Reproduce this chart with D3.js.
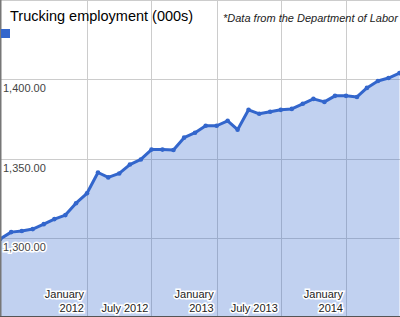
<!DOCTYPE html>
<html>
<head>
<meta charset="utf-8">
<script src="https://cdn.jsdelivr.net/npm/d3@7"></script>
<style>
    body { margin: 0; background: #fff; }
    svg { display: block; font-family: Arial, "Liberation Sans", sans-serif; }
</style>
</head>
<body>
<div id="chart"></div>
<script>
const months = [
    "2011-05", "2011-06", "2011-07", "2011-08", "2011-09", "2011-10", "2011-11", "2011-12",
    "2012-01", "2012-02", "2012-03", "2012-04", "2012-05", "2012-06", "2012-07", "2012-08",
    "2012-09", "2012-10", "2012-11", "2012-12", "2013-01", "2013-02", "2013-03", "2013-04",
    "2013-05", "2013-06", "2013-07", "2013-08", "2013-09", "2013-10", "2013-11", "2013-12",
    "2014-01", "2014-02", "2014-03", "2014-04", "2014-05", "2014-06"
];
const employment = [
    1299.4, 1303.7, 1304.4, 1305.6, 1308.7, 1311.9, 1314.4, 1321.9,
    1328.1, 1341.2, 1338.1, 1340.6, 1346.2, 1349.4, 1355.6, 1355.6,
    1355.3, 1363.1, 1366.2, 1370.6, 1370.6, 1373.7, 1368.1, 1380.6,
    1378.1, 1379.4, 1380.6, 1381.2, 1384.4, 1387.5, 1385.6, 1389.4,
    1389.4, 1388.7, 1394.4, 1398.7, 1400.6, 1403.7
];
const yTicks = [1300, 1350, 1400, 1450];
const xTicks = ["2012-01", "2012-07", "2013-01", "2013-07", "2014-01"];
const xTickLabels = [["January", "2012"], ["July 2012"], ["January", "2013"], ["July 2013"], ["January", "2014"]];

const title = "Trucking employment (000s)";
const note = "*Data from the Department of Labor";

const width = 400, height = 317;
const blue = "#3366cc";
const parse = d3.timeParse("%Y-%m");

const data = months.map((m, i) => ({ date: parse(m), value: employment[i] }));

const svg = d3.select("#chart")
    .append("svg")
    .attr("width", width)
    .attr("height", height);

const x = d3.scaleTime()
    .domain([parse("2012-01"), parse("2014-01")])
    .range([87, 346]);

const y = d3.scaleLinear()
    .domain([1250, 1450])
    .range([317.5, -0.5]);

// gridlines
svg.append("g")
    .selectAll("line.v")
    .data(xTicks)
    .enter()
    .append("line")
    .attr("x1", d => Math.round(x(parse(d))) + 0.5)
    .attr("x2", d => Math.round(x(parse(d))) + 0.5)
    .attr("y1", 0)
    .attr("y2", height)
    .attr("stroke", "#cccccc");

svg.append("g")
    .selectAll("line.h")
    .data(yTicks)
    .enter()
    .append("line")
    .attr("x1", 0)
    .attr("x2", width)
    .attr("y1", d => Math.max(0.5, Math.round(y(d)) + 0.5))
    .attr("y2", d => Math.max(0.5, Math.round(y(d)) + 0.5))
    .attr("stroke", "#cccccc");

const area = d3.area()
    .x(d => x(d.date))
    .y0(y(1250))
    .y1(d => y(d.value));

const line = d3.line()
    .x(d => x(d.date))
    .y(d => y(d.value));

svg.append("path")
    .datum(data)
    .attr("d", area)
    .attr("fill", blue)
    .attr("fill-opacity", 0.3);

svg.append("path")
    .datum(data)
    .attr("d", line)
    .attr("fill", "none")
    .attr("stroke", blue)
    .attr("stroke-width", 3)
    .attr("stroke-linejoin", "round");

svg.selectAll("circle")
    .data(data)
    .enter()
    .append("circle")
    .attr("cx", d => x(d.date))
    .attr("cy", d => y(d.value))
    .attr("r", 2.3)
    .attr("fill", blue);

// axis lines
svg.append("line")
    .attr("x1", 0.75).attr("x2", 0.75)
    .attr("y1", 0).attr("y2", height)
    .attr("stroke", "#777")
    .attr("stroke-width", 1.5);

svg.append("line")
    .attr("x1", 0).attr("x2", width)
    .attr("y1", 316.5).attr("y2", 316.5)
    .attr("stroke", "#555");

// y labels
svg.append("g")
    .selectAll("text")
    .data(yTicks.filter(d => d < 1450))
    .enter()
    .append("text")
    .attr("x", 3)
    .attr("y", d => y(d) + 13)
    .attr("font-size", 11)
    .attr("fill", "#444")
    .attr("stroke", "#fff")
    .attr("stroke-width", 3)
    .attr("paint-order", "stroke")
    .text(d => d3.format(",.2f")(d));

// x labels
const xl = svg.append("g")
    .selectAll("text")
    .data(xTicks)
    .enter()
    .append("text")
    .attr("x", d => x(parse(d)) - 3)
    .attr("y", 312)
    .attr("text-anchor", "end")
    .attr("font-size", 11)
    .attr("fill", "#222")
    .attr("stroke", "#fff")
    .attr("stroke-width", 3)
    .attr("paint-order", "stroke");

xl.each(function (d, i) {
    const lines = xTickLabels[i];
    const t = d3.select(this);
    lines.forEach((s, j) => {
        t.append("tspan")
            .attr("x", x(parse(d)) - 3)
            .attr("dy", j === 0 ? -(lines.length - 1) * 14 : 14)
            .text(s);
    });
});

// title, note, legend
svg.append("text")
    .attr("x", 10)
    .attr("y", 21)
    .attr("font-size", 14.5)
    .attr("fill", "#000")
    .text(title);

svg.append("text")
    .attr("x", 223)
    .attr("y", 22)
    .attr("font-size", 11)
    .attr("font-style", "italic")
    .attr("fill", "#222")
    .text(note);

svg.append("rect")
    .attr("x", 1)
    .attr("y", 29)
    .attr("width", 9)
    .attr("height", 9)
    .attr("fill", blue);
</script>
</body>
</html>
